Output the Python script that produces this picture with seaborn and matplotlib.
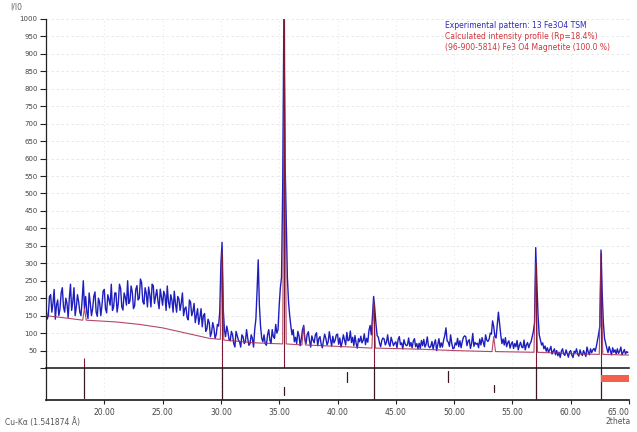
import numpy as np
import pandas as pd
import matplotlib
matplotlib.use("Agg")
import matplotlib.pyplot as plt
import seaborn as sns

# Measured diffraction pattern, 2theta 15.0 .. 64.9 in 0.1 degree steps (one row per degree)
two_theta_start = 15.0
two_theta_step = 0.1
measured_counts = [
    175, 140, 150, 205, 210, 160, 185, 225, 140, 180,   # 15
    195, 150, 170, 215, 230, 175, 160, 200, 185, 145,   # 16
    200, 240, 165, 190, 230, 150, 175, 210, 190, 160,   # 17
    150, 195, 250, 170, 205, 160, 142, 215, 185, 150,   # 18
    170, 205, 218, 160, 148, 200, 188, 150, 180, 220,   # 19
    225, 170, 158, 210, 196, 180, 240, 165, 175, 215,   # 20
    215, 160, 185, 240, 228, 175, 166, 215, 203, 180,   # 21
    250, 185, 192, 235, 218, 170, 178, 225, 236, 195,   # 22
    200, 255, 244, 190, 183, 230, 214, 175, 232, 210,   # 23
    175, 240, 236, 185, 206, 225, 192, 170, 226, 204,   # 24
    180, 220, 208, 165, 235, 190, 172, 210, 194, 160,   # 25
    220, 185, 160, 205, 198, 165, 186, 215, 150, 170,   # 26
    175, 145, 138, 195, 188, 150, 162, 185, 130, 150,   # 27
    170, 125, 146, 170, 118, 150, 156, 105, 112, 140,   # 28
    130, 90, 102, 130, 114, 85, 96, 125, 120, 160,      # 29
    300, 360, 170, 110, 90, 120, 104, 82, 78, 105,      # 30
    95, 70, 60, 105, 93, 80, 75, 60, 95, 90,            # 31
    70, 75, 110, 85, 65, 70, 95, 85, 60, 110,           # 32
    140, 220, 310, 180, 120, 85, 75, 95, 70, 65,        # 33
    95, 110, 80, 70, 110, 90, 85, 125, 100, 110,        # 34
    180, 230, 260, 520, 1000, 600, 425, 260, 190, 150,  # 35
    120, 95, 110, 75, 88, 70, 105, 92, 64, 85,          # 36
    110, 122, 83, 70, 96, 104, 78, 60, 92, 80,          # 37
    72, 95, 101, 64, 84, 90, 68, 58, 79, 97,            # 38
    85, 66, 75, 104, 82, 63, 91, 72, 80, 95,            # 39
    97, 68, 86, 60, 74, 95, 81, 66, 102, 78,            # 40
    80, 106, 73, 88, 64, 93, 70, 57, 84, 75,            # 41
    91, 72, 79, 98, 67, 85, 74, 108, 122, 95,           # 42
    150, 205, 168, 126, 93, 88, 72, 61, 79, 86,         # 43
    83, 66, 74, 95, 70, 62, 88, 76, 64, 71,             # 44
    75, 58, 82, 90, 67, 72, 55, 81, 69, 64,             # 45
    66, 86, 62, 73, 58, 77, 84, 61, 70, 55,             # 46
    71, 56, 79, 64, 82, 60, 68, 89, 63, 58,             # 47
    62, 76, 54, 70, 81, 50, 67, 84, 59, 72,             # 48
    60, 80, 93, 115, 78, 74, 62, 95, 71, 55,            # 49
    57, 72, 66, 85, 61, 78, 58, 75, 88, 92,             # 50
    90, 64, 77, 81, 56, 70, 99, 62, 73, 68,             # 51
    71, 58, 83, 66, 87, 74, 61, 95, 80, 76,             # 52
    82, 100, 97, 135, 118, 90, 86, 122, 160, 128,       # 53
    95, 70, 83, 66, 87, 61, 72, 78, 57, 69,             # 54
    75, 56, 70, 61, 79, 52, 65, 74, 60, 58,             # 55
    80, 52, 66, 73, 58, 69, 75, 90, 105, 130,           # 56
    345, 240, 150, 95, 80, 66, 72, 55, 63, 48,          # 57
    58, 45, 52, 62, 40, 48, 55, 38, 50, 35,             # 58
    45, 30, 48, 55, 40, 36, 52, 42, 31, 46,             # 59
    50, 37, 30, 48, 44, 55, 39, 34, 52, 41,             # 60
    36, 50, 42, 33, 60, 46, 38, 55, 44, 52,             # 61
    56, 48, 62, 80, 98, 120, 338, 215, 130, 85,         # 62
    70, 56, 44, 61, 49, 38, 58, 45, 52, 40,             # 63
    55, 42, 48, 60, 38, 45, 53, 40, 47, 44,             # 64
]

# Calculated profile (background + phase reflections)
calc_two_theta = [15.0, 17.0, 18.15, 18.3, 18.45, 21.0, 23.0, 25.0, 27.0, 29.0,
                  29.95, 30.1, 30.25, 33.0, 35.3, 35.45, 35.6, 36.95, 37.1, 37.25,
                  40.0, 42.95, 43.1, 43.25, 47.0, 50.0, 53.25, 53.4, 53.55, 56.85,
                  57.0, 57.15, 60.0, 62.45, 62.6, 62.75, 65.0]
calc_counts = [150, 142, 137, 172, 137, 132, 125, 115, 100, 85,
               82, 330, 80, 72, 69, 1000, 69, 66, 120, 66,
               62, 57, 190, 57, 54, 50, 47, 90, 47, 45,
               300, 45, 41, 39, 330, 39, 37]

# Peak lines dropped from the calculated reflections to the baseline
peak_line_pos = [18.3, 30.1, 35.45, 43.1, 57.0, 62.6]
peak_line_top = [30, 330, 1000, 190, 300, 330]

# Reference peak markers: position, lower and upper extent (fraction of marker strip)
marker_pos = [18.3, 30.1, 35.45, 40.85, 43.1, 49.5, 53.4, 57.0, 62.6]
marker_lo = [0.06, 0.0, 0.16, 0.56, 0.0, 0.56, 0.25, 0.0, 0.0]
marker_hi = [1.0, 1.0, 0.40, 0.88, 1.0, 0.90, 0.47, 1.0, 1.0]

x_ticks = [20, 25, 30, 35, 40, 45, 50, 55, 60, 65]
y_ticks = list(range(0, 1001, 50))

legend_lines = [
    ("Experimental pattern: 13 Fe3O4 TSM", "#2a2ab8"),
    ("Calculated intensity profile (Rp=18.4%)", "#d0343a"),
    ("(96-900-5814) Fe3 O4 Magnetite (100.0 %)", "#d0343a"),
]

sns.set_theme(style="white")
plt.rcParams["font.family"] = ["DejaVu Sans"]

W, H = 637, 432
fig = plt.figure(figsize=(W / 100, H / 100), dpi=100)
ax_m = fig.add_axes([46 / W, 1 - 400 / H, 583 / W, 32 / H])
ax = fig.add_axes([46 / W, 1 - 368 / H, 583 / W, 349 / H], sharex=ax_m)
ax.patch.set_alpha(0)
ax_m.patch.set_alpha(0)

tt = two_theta_start + two_theta_step * np.arange(len(measured_counts))
meas = pd.DataFrame({"two_theta": tt, "counts": measured_counts})
calc = pd.DataFrame({"two_theta": calc_two_theta, "counts": calc_counts})

for v in y_ticks[1:]:
    ax.axhline(v, color="#e4e4e4", lw=0.6, ls=(0, (3, 3)), zorder=0)
for v in x_ticks:
    ax.axvline(v, color="#ececec", lw=0.6, ls=(0, (2, 3)), zorder=0)
    ax_m.axvline(v, color="#ececec", lw=0.6, ls=(0, (2, 3)), zorder=0)

sns.lineplot(data=meas, x="two_theta", y="counts", ax=ax, color="#1e1ebe",
             linewidth=1.0, zorder=2)
sns.lineplot(data=calc, x="two_theta", y="counts", ax=ax, color="#a8284c",
             linewidth=0.8, alpha=0.85, zorder=3)
ax.vlines(peak_line_pos, 0, peak_line_top, color="#7a1a34", lw=0.8, zorder=3)

ax.set_xlim(15, 65)
ax.set_ylim(0, 1000)
ax.set_yticks(y_ticks)
ax.set_yticklabels([""] + [str(v) for v in y_ticks[1:]])
ax.tick_params(axis="y", direction="out", length=4, width=0.8, pad=2,
               labelsize=5, labelcolor="#444444", left=True, color="#222222")
ax.tick_params(axis="x", bottom=False, labelbottom=False)
ax.set_xlabel("")
ax.set_ylabel("")
for s in ("top", "right"):
    ax.spines[s].set_visible(False)
ax.spines["left"].set_color("#222222")
ax.spines["bottom"].set_color("#111111")
ax.spines["left"].set_linewidth(0.9)
ax.spines["bottom"].set_linewidth(1.1)
ax.spines["bottom"].set_zorder(5)

# marker strip
for p, lo, hi in zip(marker_pos, marker_lo, marker_hi):
    ax_m.axvline(p, ymin=lo, ymax=hi, color="#3a1a20", lw=0.9, zorder=2)
ax_m.axvspan(62.6, 65.0, ymin=0.56, ymax=0.78, color="#f0604c", lw=0, zorder=3)
ax_m.set_ylim(0, 1)
ax_m.set_yticks([])
ax_m.set_xticks(x_ticks)
ax_m.set_xticklabels([f"{v:.2f}" for v in x_ticks])
ax_m.tick_params(axis="x", direction="out", length=3, width=0.8, pad=3,
                 labelsize=5.5, labelcolor="#444444", bottom=True, color="#222222")
ax_m.get_xticklabels()[-1].set_horizontalalignment("right")
ax_m.set_xlabel("")
for s in ("top", "right"):
    ax_m.spines[s].set_visible(False)
ax_m.spines["left"].set_color("#222222")
ax_m.spines["bottom"].set_color("#222222")
ax_m.spines["left"].set_linewidth(0.9)

fig.text(10 / W, 1 - 7 / H, "I/I0", fontsize=5.5, color="#666666", va="center")
for i, (txt, col) in enumerate(legend_lines):
    fig.text(445 / W, 1 - (25 + 11.5 * i) / H, txt, fontsize=5.5, color=col,
             va="center", ha="left")
fig.text(5 / W, 1 - 422 / H, "Cu-K\u03b1 (1.541874 \u00c5)", fontsize=5.5,
         color="#555555", va="center")
fig.text(631 / W, 1 - 422 / H, "2theta", fontsize=5.5, color="#555555",
         va="center", ha="right")

fig.savefig("out.png", dpi=100)
